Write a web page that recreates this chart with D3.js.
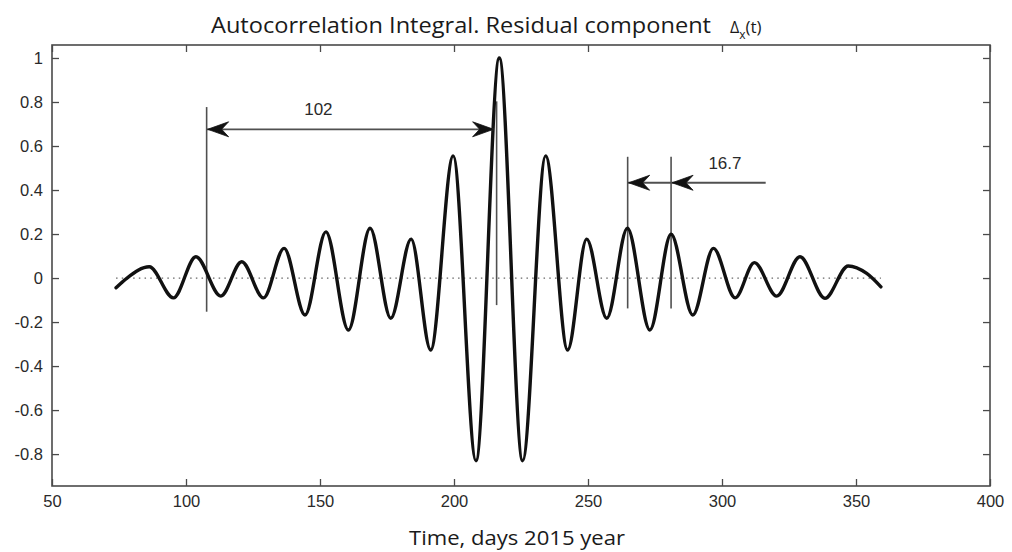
<!DOCTYPE html>
<html>
<head>
<meta charset="utf-8">
<script src="https://cdn.jsdelivr.net/npm/d3@7"></script>
<style>
  html, body { margin: 0; padding: 0; background: #fff; }
  svg { display: block; }
</style>
</head>
<body>
<svg id="chart" width="1012" height="552"></svg>
<script>
// ---- data ----
const timeDays = [73.9, 78.0, 86.3, 95.3, 103.7, 113.0, 120.8, 128.9, 136.6, 144.4, 152.2, 160.6,
  168.7, 176.4, 184.0, 191.3, 199.7, 208.2, 216.9, 225.6, 234.2, 242.4, 249.5, 257.0,
  264.7, 273.1, 281.0, 289.1, 296.8, 304.9, 312.1, 320.4, 329.1, 338.4, 347.1, 354.0, 359.3];
const autocorr = [-0.044, 0.0, 0.051, -0.09, 0.097, -0.082, 0.074, -0.09, 0.135, -0.168, 0.21, -0.236,
  0.226, -0.183, 0.177, -0.327, 0.555, -0.83, 1.0, -0.83, 0.555, -0.327, 0.177, -0.183,
  0.226, -0.236, 0.199, -0.168, 0.135, -0.09, 0.07, -0.082, 0.097, -0.092, 0.055, 0.021, -0.04];

const xTicks = [50, 100, 150, 200, 250, 300, 350, 400];
const xTickLabels = ["50", "100", "150", "200", "250", "300", "350", "400"];
const yTicks = [-0.8, -0.6, -0.4, -0.2, 0, 0.2, 0.4, 0.6, 0.8, 1];
const yTickLabels = ["-0.8", "-0.6", "-0.4", "-0.2", "0", "0.2", "0.4", "0.6", "0.8", "1"];

// annotation marks (data coordinates)
const markerX = [107.7, 215.9, 264.8, 281.0];
const markerBottom = [-0.153, -0.123, -0.138, -0.138];
const markerTop = [0.777, 0.803, 0.551, 0.551];
const arrow1 = { x0: 107.7, x1: 215.9, y: 0.676, label: "102", labelX: 149.4, labelY: 0.74 };
const arrow2 = { x0: 264.8, x1: 316.3, mid: 281.0, y: 0.433, label: "16.7", labelX: 301.1, labelY: 0.495 };

const titleText = "Autocorrelation Integral. Residual component";
const xLabel = "Time, days 2015 year";

// ---- layout ----
const svg = d3.select("#chart");
const L = 52, R = 990, T = 45, B = 486;
const x = d3.scaleLinear().domain([50, 400]).range([L, R]);
const y = d3.scaleLinear().domain([-0.945, 1.059]).range([B, T]);

const axisColor = "#4a4a4a";
const textColor = "#2a2a2a";
const tickFont = "Liberation Sans, Arial, sans-serif";

// box
svg.append("rect").attr("x", L).attr("y", T).attr("width", R - L).attr("height", B - T)
  .attr("fill", "none").attr("stroke", axisColor).attr("stroke-width", 1.6);

function styleAxis(g, labels) {
  g.select(".domain").remove();
  g.selectAll(".tick line").attr("stroke", axisColor).attr("stroke-width", 1.3);
  g.selectAll(".tick text").attr("fill", textColor)
    .style("font-family", tickFont).style("font-size", "16.5px");
  if (!labels) g.selectAll(".tick text").remove();
}

const tk = 7;
svg.append("g").attr("transform", `translate(0,${B})`)
  .call(d3.axisBottom(x).tickValues(xTicks).tickSizeInner(-tk).tickSizeOuter(0).tickPadding(9)
    .tickFormat((d, i) => xTickLabels[i]))
  .call(g => styleAxis(g, true));
svg.append("g").attr("transform", `translate(0,${T})`)
  .call(d3.axisTop(x).tickValues(xTicks).tickSizeInner(-tk).tickSizeOuter(0))
  .call(g => styleAxis(g, false));
svg.append("g").attr("transform", `translate(${L},0)`)
  .call(d3.axisLeft(y).tickValues(yTicks).tickSizeInner(-tk).tickSizeOuter(0).tickPadding(9)
    .tickFormat((d, i) => yTickLabels[i]))
  .call(g => styleAxis(g, true));
svg.append("g").attr("transform", `translate(${R},0)`)
  .call(d3.axisRight(y).tickValues(yTicks).tickSizeInner(-tk).tickSizeOuter(0))
  .call(g => styleAxis(g, false));

// dotted zero line over the data range
svg.append("line")
  .attr("x1", x(d3.min(timeDays))).attr("x2", x(d3.max(timeDays)))
  .attr("y1", y(0)).attr("y2", y(0))
  .attr("stroke", "#666").attr("stroke-width", 1.3).attr("stroke-dasharray", "1.5,4.2");

// marker vertical lines
const lineColor = "#505050";
markerX.forEach((mx, i) => {
  svg.append("line")
    .attr("x1", x(mx)).attr("x2", x(mx))
    .attr("y1", y(markerBottom[i])).attr("y2", y(markerTop[i]))
    .attr("stroke", lineColor).attr("stroke-width", 1.6);
});

// curve
const line = d3.line().x((d, i) => x(timeDays[i])).y(d => y(d)).curve(d3.curveMonotoneX);
svg.append("path").datum(autocorr)
  .attr("d", line)
  .attr("fill", "none").attr("stroke", "#111").attr("stroke-width", 3.4)
  .attr("stroke-linejoin", "round").attr("stroke-linecap", "round");

// arrowheads: tip at (tx,ty), dir = -1 pointing left, +1 pointing right
function arrowHead(tx, ty, dir) {
  const len = 21, h = 7.5, notch = 14;
  const p = [[tx, ty], [tx - dir * len, ty - h], [tx - dir * notch, ty], [tx - dir * len, ty + h]];
  svg.append("path").attr("d", "M" + p.map(q => q.join(",")).join("L") + "Z")
    .attr("fill", "#111").attr("stroke", "#111").attr("stroke-width", 0.8).attr("stroke-linejoin", "miter");
}

// arrow 1 (double headed)
svg.append("line").attr("x1", x(arrow1.x0)).attr("x2", x(arrow1.x1) - 3)
  .attr("y1", y(arrow1.y)).attr("y2", y(arrow1.y))
  .attr("stroke", lineColor).attr("stroke-width", 1.8);
arrowHead(x(arrow1.x0) + 1, y(arrow1.y), -1);
arrowHead(x(arrow1.x1) - 3, y(arrow1.y), 1);
svg.append("text").attr("x", x(arrow1.labelX)).attr("y", y(arrow1.labelY))
  .attr("text-anchor", "middle").attr("fill", textColor)
  .style("font-family", tickFont).style("font-size", "17px").text(arrow1.label);

// arrow 2 (two heads pointing left)
svg.append("line").attr("x1", x(arrow2.x0)).attr("x2", x(arrow2.x1))
  .attr("y1", y(arrow2.y)).attr("y2", y(arrow2.y))
  .attr("stroke", lineColor).attr("stroke-width", 1.8);
arrowHead(x(arrow2.x0) + 1, y(arrow2.y), -1);
arrowHead(x(arrow2.mid) + 1, y(arrow2.y), -1);
svg.append("text").attr("x", x(arrow2.labelX)).attr("y", y(arrow2.labelY))
  .attr("text-anchor", "middle").attr("fill", textColor)
  .style("font-family", tickFont).style("font-size", "17px").text(arrow2.label);

// title
const title = svg.append("text").attr("x", 211).attr("y", 33).attr("text-anchor", "start")
  .attr("fill", "#1a1a1a").style("font-family", "Open Sans, sans-serif").style("font-size", "21px");
title.append("tspan").attr("textLength", 500).attr("lengthAdjust", "spacingAndGlyphs").text(titleText);
title.append("tspan").attr("x", 730).style("font-size", "16px").text("Δ");
title.append("tspan").style("font-size", "12px").attr("dy", 6).text("x");
title.append("tspan").style("font-size", "17px").attr("dy", -6).text("(t)");

// x label
svg.append("text").attr("x", 409).attr("y", 545).attr("text-anchor", "start")
  .attr("fill", "#1a1a1a").style("font-family", "Open Sans, sans-serif").style("font-size", "20.5px")
  .attr("textLength", 216).attr("lengthAdjust", "spacingAndGlyphs")
  .text(xLabel);
</script>
</body>
</html>
